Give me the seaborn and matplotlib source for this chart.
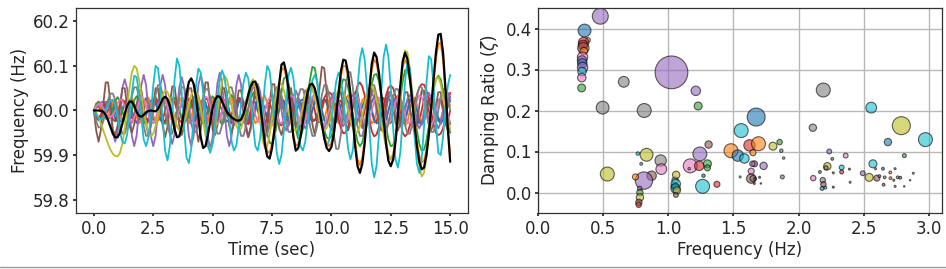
import matplotlib
matplotlib.use("Agg")
import matplotlib.pyplot as plt
import numpy as np
import pandas as pd
import seaborn as sns
from matplotlib.lines import Line2D

sns.set_theme(style="ticks")
plt.rcParams["font.family"] = ["DejaVu Sans"]
plt.rcParams.update({
    "axes.edgecolor": "#333333",
    "axes.linewidth": 0.9,
    "xtick.major.size": 2.5,
    "ytick.major.size": 2.5,
    "xtick.major.pad": 2.5,
    "ytick.major.pad": 2,
    "xtick.labelsize": 12,
    "ytick.labelsize": 12,
    "axes.labelsize": 12,
})

tab = {"blue": "#1f77b4", "orange": "#ff7f0e", "green": "#2ca02c", "red": "#d62728",
       "purple": "#9467bd", "brown": "#8c564b", "pink": "#e377c2", "gray": "#7f7f7f",
       "olive": "#bcbd22", "cyan": "#17becf"}

# ---- left panel: frequency traces, deviation in mHz from 60 Hz, one sample per 0.1 s
dt = 0.1

extra_red = [
    0, 9, 9, 0, -9, -9, 0, 17, 17, 0, -17, -17, 0, 17, 17, 0, -17, -17,
    0, 19, 19, 0, -19, -19, 0, 22, 22, 0, -22, -22, 0, 19, 19, 0, -19, -19,
    0, 17, 17, 0, -17, -17, 0, 17, 17, 0, -17, -17, 0, 22, 22, 0, -22, -22,
    0, 24, 24, 0, -24, -24, 0, 22, 22, 0, -22, -22, 0, 19, 19, 0, -19, -19,
    0, 17, 17, 0, -17, -17, 0, 22, 22, 0, -22, -22, 0, 24, 24, 0, -24, -24,
    0, 26, 26, 0, -26, -26, 0, 24, 24, 0, -24, -24, 0, 22, 22, 0, -22, -22,
    0, 24, 24, 0, -24, -24, 0, 26, 26, 0, -26, -26, 0, 28, 28, 0, -28, -28,
    0, 26, 26, 0, -26, -26, 0, 24, 24, 0, -24, -24, 0, 26, 26, 0, -26, -26,
    0, 24, 24, 0, -24, -24, 0,
]
extra_pink = [
    0, -11, -15, -11, 0, 11, 15, 11, 0, -16, -22, -16, 0, 16, 22, 16,
    0, -18, -25, -18, 0, 18, 25, 18, 0, -18, -25, -18, 0, 18, 25, 18,
    0, -16, -22, -16, 0, 16, 22, 16, 0, -18, -25, -18, 0, 18, 25, 18,
    0, -20, -28, -20, 0, 20, 28, 20, 0, -18, -25, -18, 0, 18, 25, 18,
    0, -16, -22, -16, 0, 16, 22, 16, 0, -18, -25, -18, 0, 18, 25, 18,
    0, -20, -28, -20, 0, 20, 28, 20, 0, -21, -30, -21, 0, 21, 30, 21,
    0, -20, -28, -20, 0, 20, 28, 20, 0, -18, -25, -18, 0, 18, 25, 18,
    0, -20, -28, -20, 0, 20, 28, 20, 0, -21, -30, -21, 0, 21, 30, 21,
    0, -20, -28, -20, 0, 20, 28, 20, 0, -18, -25, -18, 0, 18, 25, 18,
    0, -18, -25, -18, 0, 18, 25,
]
extra_orange = [
    0, 16, 19, 9, -9, -19, -16, 0, 20, 24, 11, -11, -24, -20,
    0, 23, 29, 13, -13, -29, -23, 0, 23, 29, 13, -13, -29, -23,
    0, 20, 24, 11, -11, -24, -20, 0, 23, 29, 13, -13, -29, -23,
    0, 27, 34, 15, -15, -34, -27, 0, 23, 29, 13, -13, -29, -23,
    0, 20, 24, 11, -11, -24, -20, 0, 23, 29, 13, -13, -29, -23,
    0, 27, 34, 15, -15, -34, -27, 0, 27, 34, 15, -15, -34, -27,
    0, 23, 29, 13, -13, -29, -23, 0, 20, 24, 11, -11, -24, -20,
    0, 23, 29, 13, -13, -29, -23, 0, 27, 34, 15, -15, -34, -27,
    0, 23, 29, 13, -13, -29, -23, 0, 23, 29, 13, -13, -29, -23,
    0, 27, 34, 15, -15, -34, -27, 0, 23, 29, 13, -13, -29, -23,
    0, 20, 24, 11, -11, -24, -20, 0, 20, 24, 11,
]
extra_blue = [
    0, -13, -20, -17, -7, 7, 17, 20, 13, 0, -16, -25, -22, -9, 9, 22, 25, 16,
    0, -16, -25, -22, -9, 9, 22, 25, 16, 0, -19, -29, -26, -10, 10, 26, 29, 19,
    0, -16, -25, -22, -9, 9, 22, 25, 16, 0, -13, -20, -17, -7, 7, 17, 20, 13,
    0, -16, -25, -22, -9, 9, 22, 25, 16, 0, -19, -29, -26, -10, 10, 26, 29, 19,
    0, -19, -29, -26, -10, 10, 26, 29, 19, 0, -16, -25, -22, -9, 9, 22, 25, 16,
    0, -16, -25, -22, -9, 9, 22, 25, 16, 0, -19, -29, -26, -10, 10, 26, 29, 19,
    0, -16, -25, -22, -9, 9, 22, 25, 16, 0, -19, -29, -26, -10, 10, 26, 29, 19,
    0, -16, -25, -22, -9, 9, 22, 25, 16, 0, -19, -29, -26, -10, 10, 26, 29, 19,
    0, -16, -25, -22, -9, 9, 22,
]

trace_blue = [
    0, -16, -22, -16, 0, 16, 22, 16, 0, -18, -25, -18, 0, 18, 25, 18,
    0, -20, -28, -20, 0, 20, 28, 20, 0, -18, -25, -18, 0, 18, 25, 18,
    0, -16, -22, -16, 0, 16, 22, 16, 0, -18, -25, -18, 0, 18, 25, 18,
    0, -21, -30, -21, 0, 21, 30, 21, 0, -20, -28, -20, 0, 20, 28, 20,
    0, -18, -25, -18, 0, 18, 25, 18, 0, -16, -22, -16, 0, 16, 22, 16,
    0, -18, -25, -18, 0, 18, 25, 18, 0, -20, -28, -20, 0, 20, 28, 20,
    0, -21, -30, -21, 0, 21, 30, 21, 0, -23, -32, -23, 0, 23, 32, 23,
    0, -21, -30, -21, 0, 21, 30, 21, 0, -20, -28, -20, 0, 20, 28, 20,
    0, -21, -30, -21, 0, 21, 30, 21, 0, -23, -32, -23, 0, 23, 32, 23,
    0, -21, -30, -21, 0, 21, 30,
]
trace_orange = [
    0, 12, 15, 6, -6, -15, -12, 0, 20, 24, 11, -11, -24, -20,
    0, 22, 27, 12, -12, -27, -22, 0, 20, 24, 11, -11, -24, -20,
    0, 17, 21, 9, -9, -21, -17, 0, 20, 24, 11, -11, -24, -20,
    0, 22, 27, 12, -12, -27, -22, 0, 23, 29, 13, -13, -29, -23,
    0, 23, 29, 13, -13, -29, -23,
    -10, 8, 25, 40, 50, 52, 40,
    12, -26, -66, -91, -95, -75, -40, 4, 53, 91,
    95, 75, 40, -9, -53, -79, -75, -53, -22, 9,
    37, 51, 53, 44, 25, 0, -28, -55, -74, -80,
    -72, -48, -9, 35, 77, 100, 99, 75, 33, -18,
    -70, -110, -123, -106, -66, -13, 44, 92, 114, 106,
    75, 31, -18, -66, -99, -110, -97, -62, -9, 48,
    97, 114, 101, 66, 22, -26, -70, -101, -116, -113,
    -88, -48, 4, 62, 114, 150, 151, 114, 44, -35,
    -101,
]
trace_green = [
    0, 14, 20, 14, 0, -14, -20, -14, 0, 21, 30, 21, 0, -21, -30, -21,
    0, 23, 32, 23, 0, -23, -32, -23, 0, 21, 30, 21, 0, -21, -30, -21,
    0, 20, 28, 20, 0, -20, -28, -20, 0, 21, 30, 21, 0, -21, -30, -21,
    0, 23, 32, 23, 0, -23, -32, -23, 0, 25, 35, 25, 0, -25, -35, -25,
    -10, 5, 25, 38, 45, 45,
    34, 10, -21, -52, -72, -76, -60, -32, 4, 42,
    72, 76, 60, 32, -7, -42, -63, -60, -42, -10,
    30, 70, 98, 95, 65, 20, -22, -45, -60, -64,
    -58, -40, -10, 25, 55, 70, 68, 52, 25, -10,
    -45, -70, -80, -72, -48, -12, 25, 60, 80, 82,
    65, 35, 0, -35, -65, -80, -78, -55, -18, 25,
    65, 90, 92, 70, 35, -5, -45, -75, -90, -88,
    -68, -35, 5, 45, 70, 78, 70, 45, 10, -25,
    -50,
]
trace_red = [
    0, -16, -19, -9, 9, 19, 16, 0, -20, -24, -11, 11, 24, 20,
    0, -22, -27, -12, 12, 27, 22, 0, -20, -24, -11, 11, 24, 20,
    0, -20, -24, -11, 11, 24, 20, 0, -22, -27, -12, 12, 27, 22,
    0, -23, -29, -13, 13, 29, 23, 0, -22, -27, -12, 12, 27, 22,
    0, -23, -29, -13, 13, 29, 23, 0, -25, -31, -14, 14, 31, 25,
    0, -27, -34, -15, 15, 34, 27, 0, -27, -34, -15, 15, 34, 27,
    0, -27, -34, -15, 15, 34,
    20, 0, -20, -22, -13, 0, 14, 28, 38, 41,
    37, 25, 5, -18, -40, -51, -50, -38, -17, 9,
    36, 56, 63, 54, 34, 7, -22, -47, -58, -54,
    -38, -16, 9, 34, 51, 56, 50, 32, 5, -25,
    -50, -58, -52, -34, -11, 14, 36, 52, 59, 58,
    45, 25, -2, -32, -50, -55, -52, -40, -15, 15,
    40,
]
trace_purple = [
    0, 5, 12, 18, 20, 18, 10,
    0, -50, -70, -50, 0, 50, 70, 50, 0, -57, -80, -57, 0, 57, 80, 57,
    0, -57, -80, -57, 0, 57, 80, 57, 0, -53, -75, -53, 0, 53, 75, 53,
    0, -57, -80, -57, 0, 57, 80, 57, 0, -60, -85, -60, 0, 60, 85, 60,
    0, -57, -80, -57, 0, 57, 80, 57, 0, -43, -60, -43, 0, 43, 60, 43,
    0, -36, -50, -36, 0, 36, 50, 36, 0, -32, -45, -32, 0, 32, 45, 32,
    0, -28, -40, -28, 0, 28, 40, 28, 0, -28, -40, -28, 0, 28, 40, 28,
    0, -25, -35, -25, 0, 25, 35, 25, 0, -28, -40, -28, 0, 28, 40, 28,
    0, -28, -40, -28, 0, 28, 40, 28, 0, -25, -35, -25, 0, 25, 35, 25,
    0, -28, -40, -28, 0, 28, 40, 28, 0, -28, -40, -28, 0, 28, 40, 28,
]
trace_brown = [
    0, -45,
    -70, -43, 15, 63, 63, 15, -43, -55, -34, 12, 50, 50, 12, -34,
    -50, -31, 11, 45, 45, 11, -31, -55, -34, 12, 50, 50, 12, -34,
    -60, -37, 13, 54, 54, 13, -37, -55, -34, 12, 50, 50, 12, -34,
    -70, -43, 15, 63, 63, 15, -43, -55, -34, 12, 50, 50, 12, -34,
    -50, -31, 11, 45, 45, 11, -31, -60, -37, 13, 54, 54, 13, -37,
    -65, -40, 14, 59, 59, 14, -40, -55, -34, 12, 50, 50, 12, -34,
    -50, -31, 11, 45, 45, 11, -31, -55, -20, 50, 98, 95, 40, -30,
    -45, -28, 10, 41, 41, 10, -28, -45, -28, 10, 41, 41, 10, -28,
    -50, -31, 11, 45, 45, 11, -31, -45, -28, 10, 41, 41, 10, -28,
    -45, -28, 10, 41, 41, 10, -28, -50, -31, 11, 45, 45, 11, -31,
    -45, -28, 10, 41, 41, 10, -28,
    -45, -28,
]
trace_pink = [
    0, 10, 15, 13, 5, -5, -13, -15, -10, 0, 16, 25, 22, 9, -9, -22, -25, -16,
    0, 19, 29, 26, 10, -10, -26, -29, -19, 0, 18, 27, 24, 10, -10, -24, -27, -18,
    0, 19, 29, 26, 10, -10, -26, -29, -19, 0, 20, 31, 28, 11, -11, -28, -31, -20,
    0, 19, 29, 26, 10, -10, -26, -29, -19, 0, 18, 27, 24, 10, -10, -24, -27, -18,
    0, 19, 29, 26, 10, -10, -26, -29, -19, 0, 22, 34, 30, 12, -12, -30, -34, -22,
    0, 20, 31, 28, 11, -11, -28, -31, -20, 0, 19, 29, 26, 10, -10, -26, -29, -19,
    0, 22, 34, 30, 12, -12, -30, -34, -22, 0, 20, 31, 28, 11, -11, -28, -31, -20,
    0, 19, 29, 26, 10, -10, -26, -29, -19, 0, 22, 34, 30, 12, -12, -30, -34, -22,
    0, 19, 29, 26, 10, -10, -26,
]
trace_gray = [
    0, -24, -38, -38, -24, 0, 24, 38, 38, 24,
    0, -32, -52, -52, -32, 0, 32, 52, 52, 32,
    0, -35, -57, -57, -35, 0, 35, 57, 57, 35,
    0, -32, -52, -52, -32, 0, 32, 52, 52, 32,
    0, -30, -48, -48, -30, 0, 30, 48, 48, 30,
    0, -32, -52, -52, -32, 0, 32, 52, 52, 32,
    0, -35, -57, -57, -35, 0, 35, 57, 57, 35,
    0, -32, -52, -52, -32, 0, 32, 52, 52, 32,
    0, -30, -48, -48, -30, 0, 30, 48, 48, 30,
    0, -35, -57, -57, -35, 0, 35, 57, 57, 35,
    0, -53, -86, -86, -53, 0, 53, 86, 86, 53,
    0, -35, -57, -57, -35, 0, 35, 57, 57, 35,
    0, -30, -48, -48, -30, 0, 30, 48, 48, 30,
    0, -32, -52, -52, -32, 0, 32, 52, 52, 32,
    0, -30, -48, -48, -30, 0, 30, 48, 48, 30,
    0,
]
trace_olive = [
    0, -5, -15, -30, -45, -60, -75, -88, -97, -102,
    -103, -95, -75, -40, 5, 50, 85, 100, 95, 70,
    35, 0, -30, -50, -58, -52, -35, -10, 15, 35,
    45, 42, 28, 8, -15, -35, -45, -42, -28, -8,
    15, 35, 45, 42, 28, 5, -25, -55, -80, -88,
    -75, -45, -5, 35, 65, 78, 70, 45, 15, -15,
    -35, -45, -40, -20, 10, 40, 62, 70, 55, 20,
    -25, -65, -85, -80, -55, -20, 15, 45, 60, 60,
    45, 20, -5, -28, -42, -45, -35, -15, 10, 35,
    50, 55, 48, 30, 5, -20, -38, -45, -40, -25,
    -5, 18, 35, 45, 48, 40, 22, 0, -22, -40,
    -50, -48, -35, -12, 15, 38, 52, 55, 45, 25,
    0, -28, -55, -80, -100, -110, -100, -68, -20, 40,
    100, 135, 130, 95, 45, -15, -75, -125, -148, -140,
    -105, -55, 0, 45, 70, 75, 60, 30, 0, -25,
    -40,
]
trace_cyan = [
    0, -8, -17, -20, -14, -2, 12, 23, 24, 12,
    -15, -48, -70, -74, -55, -15, 40, 78, 75, 40,
    -15, -65, -80, -60, -10, 55, 100, 95, 50, -20,
    -90, -112, -80, -10, 70, 117, 100, 40, -40, -105,
    -118, -85, -20, 55, 94, 85, 40, -25, -80, -95,
    -75, -35, 20, 70, 90, 75, 35, -20, -70, -90,
    -78, -38, 15, 62, 85, 72, 30, -30, -80, -90,
    -62, -5, 60, 100, 88, 40, -30, -95, -120, -100,
    -45, 25, 80, 96, 72, 20, -40, -80, -90, -70,
    -25, 28, 68, 80, 65, 25, -25, -65, -80, -68,
    -30, 20, 65, 85, 72, 30, -30, -85, -110, -90,
    -30, 50, 115, 140, 115, 50, -40, -120, -150, -125,
    -55, 40, 120, 148, 120, 50, -40, -110, -128, -95,
    -20, 65, 110, 95, 30, -55, -120, -140, -110, -35,
    60, 122, 115, 55, -30, -95, -100, -60, 5, 55,
    80,
]
trace_black = [
    0, 0, 0, -1, -3, -10, -22, -37, -52, -60,
    -60, -50, -30, -8, 10, 20, 20, 10, -3, -12,
    -14, -10, -4, -1, 0, -1, -2, 3, 14, 26,
    31, 26, 10, -15, -42, -60, -58, -35, 0, 38,
    64, 72, 60, 30, -15, -60, -84, -80, -55, -25,
    5, 24, 32, 31, 20, 8, -3, -10, -15, -19,
    -22, -23, -20, -8, 12, 35, 54, 64, 65, 48,
    15, -30, -75, -103, -108, -85, -45, 5, 60, 103,
    108, 85, 45, -10, -60, -90, -85, -60, -25, 10,
    42, 58, 60, 50, 28, 0, -32, -62, -84, -91,
    -82, -55, -10, 40, 88, 114, 112, 85, 38, -20,
    -80, -125, -140, -120, -75, -15, 50, 105, 130, 120,
    85, 35, -20, -75, -113, -125, -110, -70, -10, 55,
    110, 130, 115, 75, 25, -30, -80, -115, -132, -128,
    -100, -55, 5, 70, 130, 170, 172, 130, 50, -40,
    -115,
]

traces = [
    (extra_red, "red"), (extra_pink, "pink"), (extra_orange, "orange"), (extra_blue, "blue"),
    (trace_blue, "blue"), (trace_orange, "orange"), (trace_green, "green"), (trace_red, "red"),
    (trace_purple, "purple"), (trace_brown, "brown"), (trace_pink, "pink"), (trace_gray, "gray"),
    (trace_olive, "olive"), (trace_cyan, "cyan"),
]

# ---- right panel: identified modes
mode_freq = [
    1.024, 0.478, 0.357, 0.383, 0.350, 0.345, 0.348, 0.352, 0.342, 0.338,
    0.340, 0.342, 0.338, 0.336, 0.335, 0.658, 0.496, 0.815, 1.211, 1.229,
    0.532, 0.833, 0.766, 0.792, 0.941, 0.946, 0.872, 0.813, 0.748, 0.780,
    0.782, 0.782, 0.774, 0.772, 1.052, 1.050, 1.057, 1.055, 1.060, 1.065,
    1.058, 1.168, 1.160, 1.242, 1.237, 1.300, 1.300, 1.309, 1.263, 1.270,
    1.373,
    1.481, 1.559, 1.674, 1.623, 1.692, 1.533, 1.584, 1.649, 1.803, 1.854,
    1.867, 1.885, 1.661, 1.645, 1.731, 1.636, 1.636, 1.650, 1.665, 1.700,
    1.710, 1.660, 1.875, 1.551,
    2.189, 2.109, 2.235, 2.361, 2.258, 2.220, 2.210, 2.330, 2.330, 2.163,
    2.390, 2.112, 2.185, 2.190, 2.180, 2.205, 2.266, 2.266, 2.395,
    2.557, 2.788, 2.685, 2.973, 2.811, 2.570, 2.492, 2.541, 2.600, 2.647,
    2.590, 2.703, 2.740, 2.652, 2.620, 2.660, 2.705, 2.760, 2.780, 2.730,
    2.740, 2.810, 2.880, 2.855,
]
mode_damp = [
    0.293, 0.430, 0.395, 0.372, 0.366, 0.360, 0.352, 0.345, 0.330, 0.322,
    0.315, 0.305, 0.295, 0.280, 0.255, 0.270, 0.207, 0.200, 0.248, 0.211,
    0.045, 0.092, 0.095, 0.070, 0.078, 0.057, 0.041, 0.029, 0.038, 0.010,
    0.000, -0.012, -0.024, -0.030, 0.030, 0.015, 0.021, 0.010, 0.043, 0.005,
    -0.006, 0.065, 0.058, 0.094, 0.065, 0.070, 0.060, 0.117, 0.015, 0.041,
    0.020,
    0.102, 0.151, 0.184, 0.115, 0.119, 0.090, 0.083, 0.097, 0.113, 0.123,
    0.102, 0.084, 0.070, 0.070, 0.065, 0.052, 0.034, 0.034, 0.033, 0.037,
    0.022, 0.022, 0.038, 0.038,
    0.250, 0.158, 0.100, 0.090, 0.082, 0.064, 0.060, 0.061, 0.050, 0.050,
    0.057, 0.035, 0.030, 0.020, 0.010, 0.012, 0.013, 0.048, 0.025,
    0.207, 0.163, 0.123, 0.129, 0.090, 0.070, 0.047, 0.037, 0.035, 0.058,
    0.058, 0.049, 0.058, 0.019, 0.040, 0.037, 0.035, 0.037, 0.036, 0.030,
    0.015, 0.015, 0.047, 0.030,
]
mode_size = [
    557, 132, 85, 12, 56, 46, 67, 28, 56, 46,
    46, 56, 37, 37, 32, 60, 85, 101, 46, 33,
    101, 85, 6, 4, 67, 60, 46, 157, 19, 10,
    21, 28, 21, 15, 21, 28, 46, 46, 28, 28,
    12, 101, 3, 101, 46, 33, 19, 28, 101, 6,
    19,
    101, 101, 168, 67, 101, 67, 46, 19, 33, 15,
    6, 3, 19, 15, 28, 19, 46, 19, 4, 2,
    1, 2, 8, 2,
    101, 28, 12, 12, 4, 28, 10, 12, 8, 4,
    2, 15, 15, 15, 8, 4, 2, 2, 2,
    60, 168, 28, 101, 8, 33, 12, 33, 19, 4,
    2, 4, 2, 4, 4, 4, 4, 4, 4, 2,
    2, 1, 2, 1,
]
mode_color = [
    "purple", "purple", "blue", "orange", "red", "red", "brown", "orange", "pink", "purple",
    "blue", "purple", "cyan", "pink", "green", "gray", "gray", "gray", "purple", "green",
    "olive", "olive", "cyan", "cyan", "gray", "pink", "brown", "purple", "orange", "purple",
    "green", "olive", "brown", "red", "gray", "green", "cyan", "blue", "olive", "olive",
    "brown", "pink", "olive", "purple", "red", "green", "green", "brown", "cyan", "blue",
    "red",
    "orange", "cyan", "blue", "red", "orange", "blue", "cyan", "orange", "olive", "green",
    "gray", "olive", "brown", "purple", "purple", "pink", "brown", "gray", "red", "green",
    "blue", "green", "gray", "olive",
    "gray", "gray", "purple", "pink", "green", "olive", "brown", "cyan", "red", "green",
    "brown", "pink", "gray", "brown", "blue", "cyan", "red", "green", "orange",
    "cyan", "olive", "blue", "cyan", "green", "cyan", "purple", "olive", "brown", "blue",
    "pink", "orange", "purple", "red", "purple", "gray", "orange", "gray", "brown", "green",
    "orange", "red", "olive", "gray",
]

fig = plt.figure(figsize=(9.46, 2.69), dpi=100)
ax1 = fig.add_axes([76 / 946, 1 - 213 / 269, 392 / 946, 205 / 269])
ax2 = fig.add_axes([538 / 946, 1 - 213 / 269, 404 / 946, 205 / 269])

for vals, cname in traces:
    t = np.arange(len(vals)) * dt
    sns.lineplot(x=t, y=60 + np.asarray(vals) / 1000.0, color=tab[cname],
                 linewidth=1.3, errorbar=None, ax=ax1)
t = np.arange(len(trace_black)) * dt
sns.lineplot(x=t, y=60 + np.asarray(trace_black) / 1000.0, color="black",
             linewidth=1.6, errorbar=None, ax=ax1)

ax1.set_xlim(-0.75, 15.75)
ax1.set_ylim(59.77, 60.23)
ax1.set_xticks([0, 2.5, 5, 7.5, 10, 12.5, 15])
ax1.set_yticks([59.8, 59.9, 60.0, 60.1, 60.2])
ax1.set_xlabel("Time (sec)", labelpad=2)
ax1.set_ylabel("Frequency (Hz)", labelpad=3)

modes = pd.DataFrame({"freq": mode_freq, "damp": mode_damp, "size": mode_size, "color": mode_color})
sns.scatterplot(data=modes, x="freq", y="damp", hue="color", palette=tab, s=modes["size"].values,
                alpha=0.6, edgecolor="black", linewidth=0.8, legend=False, ax=ax2)
ax2.grid(True, color="#b8b8b8", linewidth=1.0)
ax2.set_axisbelow(True)
ax2.set_xlim(0, 3.1)
ax2.set_ylim(-0.05, 0.45)
ax2.set_xticks([0, 0.5, 1.0, 1.5, 2.0, 2.5, 3.0])
ax2.set_yticks([0.0, 0.1, 0.2, 0.3, 0.4])
ax2.set_xlabel("Frequency (Hz)", labelpad=2)
ax2.set_ylabel(r"Damping Ratio ($\zeta$)", labelpad=3)

fig.add_artist(Line2D([0, 1], [1 - 266.5 / 269] * 2, color="#9a9a9a", linewidth=1.0))

fig.savefig("out.png", dpi=100)
